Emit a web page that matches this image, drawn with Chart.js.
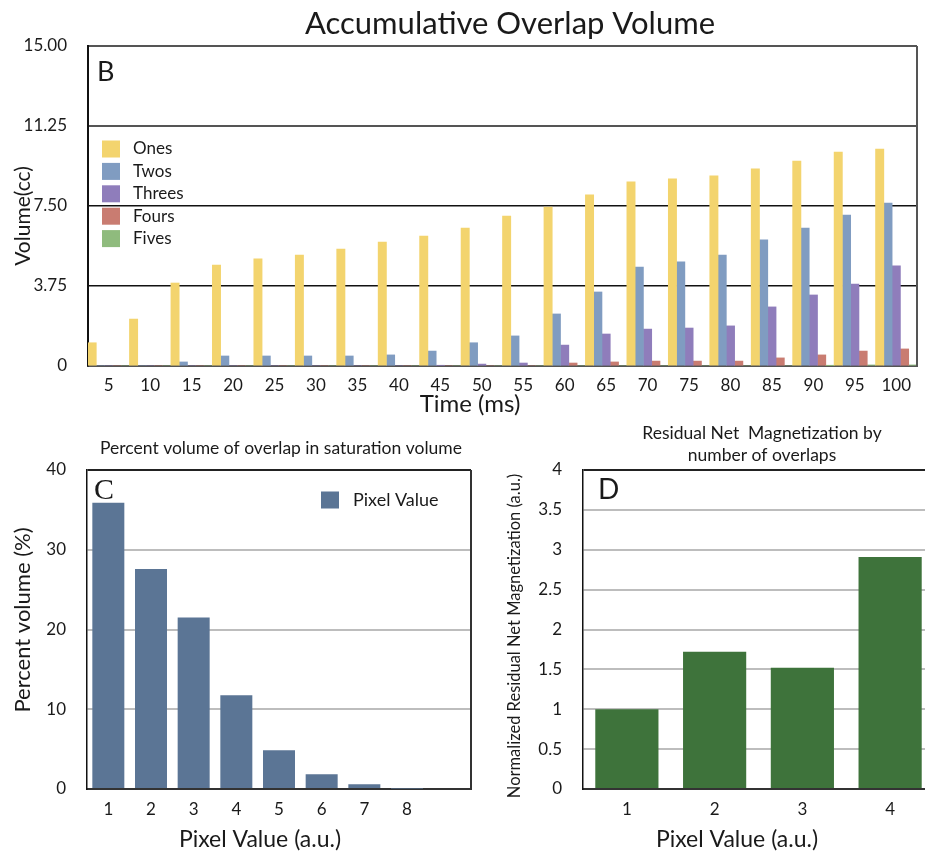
<!DOCTYPE html>
<html lang="en">
<head>
<meta charset="UTF-8" />
<title>Accumulative Overlap Volume</title>
<script src="https://cdn.jsdelivr.net/npm/chart.js"></script>
<style>
  html, body { margin: 0; padding: 0; background: #fff; overflow: hidden; }
  body { width: 925px; height: 853px; position: relative; }
  canvas { position: absolute; display: block; }
  #chartB { left: 0; top: 0; }
  #chartC { left: 0; top: 420px; }
  #chartD { left: 480px; top: 420px; }
</style>
</head>
<body>
<canvas id="chartB" width="925" height="420"></canvas>
<canvas id="chartC" width="480" height="433"></canvas>
<canvas id="chartD" width="460" height="433"></canvas>

<script>
// ---- data, panel B ----
const timeLabels = ['5', '10', '15', '20', '25', '30', '35', '40', '45', '50',
                    '55', '60', '65', '70', '75', '80', '85', '90', '95', '100'];
const ones   = [1.09, 2.2, 3.89, 4.73, 5.02, 5.2, 5.48, 5.81, 6.09, 6.47,
                7.03, 7.45, 8.02, 8.63, 8.77, 8.91, 9.24, 9.61, 10.03, 10.17];
const twos   = [0, 0, 0.19, 0.47, 0.47, 0.47, 0.47, 0.52, 0.7, 1.09,
                1.41, 2.44, 3.47, 4.64, 4.88, 5.2, 5.91, 6.47, 7.08, 7.64];
const threes = [0, 0, 0, 0, 0, 0, 0, 0, 0.03, 0.09,
                0.14, 0.98, 1.5, 1.73, 1.78, 1.88, 2.77, 3.33, 3.84, 4.69];
const fours  = [0, 0, 0, 0, 0, 0, 0, 0, 0, 0,
                0, 0.14, 0.19, 0.23, 0.23, 0.23, 0.38, 0.52, 0.7, 0.8];
const fives  = [0, 0, 0, 0, 0, 0, 0, 0, 0, 0,
                0, 0, 0, 0, 0, 0, 0, 0.02, 0.05, 0.05];
const yTicksB = ['0', '3.75', '7.50', '11.25', '15.00'];

// ---- data, panel C ----
const pixelLabelsC = ['1', '2', '3', '4', '5', '6', '7', '8', ''];
const percentVolume = [35.9, 27.6, 21.5, 11.75, 4.85, 1.84, 0.59, 0.05, null];

// ---- data, panel D ----
const pixelLabelsD = ['1', '2', '3', '4'];
const netMagnetization = [1.0, 1.72, 1.52, 2.91];
const yTicksD = ['0', '0.5', '1', '1.5', '2', '2.5', '3', '3.5', '4'];

const FONT = 'Lato, "Noto Sans", sans-serif';
const INK = '#1a1a1a';

// extra text, legend and right border drawn on top
const extras = {
  id: 'extras',
  afterDraw(chart, args, opts) {
    const ctx = chart.ctx;
    const a = chart.chartArea;
    ctx.save();
    if (opts.rightBorder) {
      ctx.strokeStyle = opts.rightBorder;
      ctx.lineWidth = 2;
      ctx.beginPath();
      ctx.moveTo(a.right, a.top);
      ctx.lineTo(a.right, a.bottom);
      ctx.stroke();
    }
    (opts.texts || []).forEach(t => {
      ctx.save();
      ctx.font = t.font;
      ctx.fillStyle = INK;
      ctx.textAlign = t.align || 'center';
      ctx.textBaseline = t.baseline || 'middle';
      ctx.translate(t.x, t.y);
      if (t.rotate) ctx.rotate(t.rotate);
      ctx.fillText(t.text, 0, 0);
      ctx.restore();
    });
    if (opts.legend) {
      const L = opts.legend;
      chart.data.datasets.forEach((ds, i) => {
        const y = L.y + i * L.step;
        ctx.fillStyle = ds.backgroundColor;
        ctx.fillRect(L.x, y - L.h / 2, L.w, L.h);
        ctx.fillStyle = INK;
        ctx.font = L.font;
        ctx.textAlign = 'left';
        ctx.textBaseline = 'middle';
        ctx.fillText(ds.label, L.textX, y);
      });
    }
    ctx.restore();
  }
};

function fixWidth(w) { return s => { s.width = w; }; }
function fixHeight(h) { return s => { s.height = h; }; }

// grafico B
const setB = [
  { label: 'Ones',   data: ones,   backgroundColor: '#f3d46e' },
  { label: 'Twos',   data: twos,   backgroundColor: '#809cc1' },
  { label: 'Threes', data: threes, backgroundColor: '#8f7dbb' },
  { label: 'Fours',  data: fours,  backgroundColor: '#c97c71' },
  { label: 'Fives',  data: fives,  backgroundColor: '#8fbb7d' }
];
new Chart(document.getElementById('chartB'), {
  type: 'bar',
  data: {
    labels: timeLabels,
    datasets: setB.map(d => Object.assign({ categoryPercentage: 1, barPercentage: 1 }, d))
  },
  options: {
    responsive: false,
    animation: false,
    devicePixelRatio: 1,
    layout: { padding: { top: 46, right: 8, left: 0, bottom: 0 } },
    plugins: {
      legend: { display: false },
      tooltip: { enabled: false },
      extras: {
        rightBorder: '#555',
        texts: [
          { text: 'Accumulative Overlap Volume', x: 510, y: 34, baseline: 'alphabetic', font: '31px ' + FONT },
          { text: 'B', x: 97, y: 81, align: 'left', baseline: 'alphabetic', font: '27px ' + FONT },
          { text: 'Volume(cc)', x: 23, y: 216, rotate: -Math.PI / 2, font: '21px ' + FONT },
          { text: 'Time (ms)', x: 470, y: 404, font: '24px ' + FONT }
        ],
        legend: { x: 102, y: 149, step: 22.4, w: 18, h: 17, textX: 133, font: '17px ' + FONT }
      }
    },
    scales: {
      x: {
        afterFit: fixHeight(54),
        grid: { display: false, drawTicks: false },
        border: { color: '#555', width: 2 },
        ticks: { color: INK, padding: 9, font: { family: FONT, size: 17 } }
      },
      y: {
        min: 0,
        max: 15,
        afterFit: fixWidth(88),
        afterBuildTicks: s => { s.ticks = [0, 3.75, 7.5, 11.25, 15].map(v => ({ value: v })); },
        grid: {
          drawTicks: false,
          color: c => c.tick.value === 0 ? 'rgba(0,0,0,0)' : (c.tick.value >= 11 ? '#555' : '#111'),
          lineWidth: c => c.tick.value >= 11 ? 2 : 1.5
        },
        border: { color: '#111', width: 2 },
        ticks: {
          color: INK,
          padding: 21,
          font: { family: FONT, size: 17 },
          callback: (v, i) => yTicksB[i]
        }
      }
    }
  },
  plugins: [extras]
});

// grafico C
new Chart(document.getElementById('chartC'), {
  type: 'bar',
  data: {
    labels: pixelLabelsC,
    datasets: [{
      label: 'Pixel Value',
      data: percentVolume,
      backgroundColor: '#5b7595',
      categoryPercentage: 0.75,
      barPercentage: 1
    }]
  },
  options: {
    responsive: false,
    animation: false,
    devicePixelRatio: 1,
    layout: { padding: { top: 50, right: 9, left: 0, bottom: 0 } },
    plugins: {
      legend: { display: false },
      tooltip: { enabled: false },
      extras: {
        rightBorder: '#333',
        texts: [
          { text: 'Percent volume of overlap in saturation volume', x: 281, y: 28, font: '17.5px ' + FONT },
          { text: 'C', x: 94, y: 79, align: 'left', baseline: 'alphabetic', font: '30px "Liberation Serif", serif' },
          { text: 'Percent volume (%)', x: 23, y: 200, rotate: -Math.PI / 2, font: '22px ' + FONT },
          { text: 'Pixel Value (a.u.)', x: 260, y: 420, font: '23px ' + FONT }
        ],
        legend: { x: 321, y: 80, step: 22, w: 18, h: 17, textX: 353, font: '18px ' + FONT }
      }
    },
    scales: {
      x: {
        afterFit: fixHeight(64),
        grid: { display: false, drawTicks: false },
        border: { color: '#333', width: 2 },
        ticks: { color: INK, padding: 10, font: { family: FONT, size: 17 } }
      },
      y: {
        min: 0,
        max: 40,
        afterFit: fixWidth(87),
        ticks: { stepSize: 10, color: INK, padding: 21, font: { family: FONT, size: 17 } },
        grid: {
          drawTicks: false,
          color: c => c.tick.value === 40 ? '#222' : (c.tick.value === 0 ? 'rgba(0,0,0,0)' : '#bdbdbd'),
          lineWidth: 2
        },
        border: { color: '#111', width: 1.5 }
      }
    }
  },
  plugins: [extras]
});

// grafico D
new Chart(document.getElementById('chartD'), {
  type: 'bar',
  data: {
    labels: pixelLabelsD,
    datasets: [{
      label: 'Residual Net Magnetization',
      data: netMagnetization,
      backgroundColor: '#3e733b',
      categoryPercentage: 0.72,
      barPercentage: 1
    }]
  },
  options: {
    responsive: false,
    animation: false,
    devicePixelRatio: 1,
    layout: { padding: { top: 50, right: 6, left: 0, bottom: 0 } },
    plugins: {
      legend: { display: false },
      tooltip: { enabled: false },
      extras: {
        rightBorder: '#333',
        texts: [
          { text: 'Residual Net  Magnetization by', x: 282, y: 13, font: '17.5px ' + FONT },
          { text: 'number of overlaps', x: 282, y: 35, font: '17.5px ' + FONT },
          { text: 'D', x: 118, y: 79, align: 'left', baseline: 'alphabetic', font: '28px ' + FONT },
          { text: 'Normalized Residual Net Magnetization (a.u.)', x: 35, y: 216, rotate: -Math.PI / 2, font: '16.5px ' + FONT },
          { text: 'Pixel Value (a.u.)', x: 257, y: 420, font: '23px ' + FONT }
        ]
      }
    },
    scales: {
      x: {
        afterFit: fixHeight(64),
        grid: { display: false, drawTicks: false },
        border: { color: '#333', width: 2 },
        ticks: { color: INK, padding: 10, font: { family: FONT, size: 17 } }
      },
      y: {
        min: 0,
        max: 4,
        afterFit: fixWidth(103),
        ticks: {
          stepSize: 0.5,
          color: INK,
          padding: 21,
          font: { family: FONT, size: 17 },
          callback: (v, i) => yTicksD[i]
        },
        grid: {
          drawTicks: false,
          color: c => c.tick.value === 4 ? '#222' : (c.tick.value === 0 ? 'rgba(0,0,0,0)' : '#bdbdbd'),
          lineWidth: 2
        },
        border: { color: '#111', width: 1.5 }
      }
    }
  },
  plugins: [extras]
});
</script>
</body>
</html>
